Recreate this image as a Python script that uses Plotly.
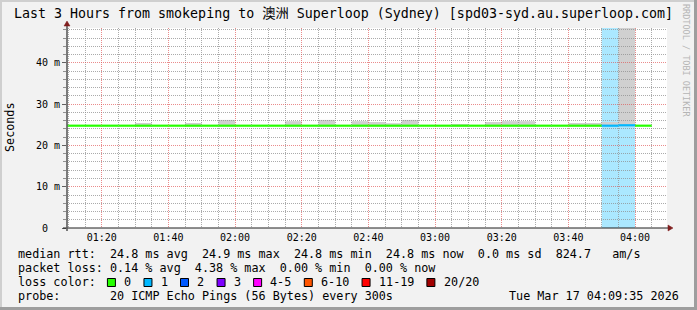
import plotly.graph_objects as go
import pandas as pd

# ---------------- data ----------------
DAY = "2026-03-17"
step_start = ["01:05", "01:10", "01:15", "01:20", "01:25", "01:30", "01:35", "01:40", "01:45",
              "01:50", "01:55", "02:00", "02:05", "02:10", "02:15", "02:20", "02:25", "02:30",
              "02:35", "02:40", "02:45", "02:50", "02:55", "03:00", "03:05", "03:10", "03:15",
              "03:20", "03:25", "03:30", "03:35", "03:40", "03:45", "03:50", "03:55", "04:00"]
median_ms = [24.8, 24.8, 24.8, 24.8, 24.8, 24.8, 24.8, 24.8, 24.8,
             24.8, 24.8, 24.8, 24.8, 24.8, 24.8, 24.8, 24.8, 24.8,
             24.8, 24.8, 24.8, 24.8, 24.8, 24.8, 24.8, 24.8, 24.8,
             24.8, 24.8, 24.8, 24.8, 24.8, 24.8, 24.8, 24.9, 24.8]
smoke_min_ms = [24.6, 24.6, 24.6, 24.6, 24.6, 24.6, 24.6, 24.6, 24.6,
                24.6, 24.6, 24.6, 24.6, 24.6, 24.6, 24.6, 24.6, 24.6,
                24.6, 24.6, 24.6, 24.6, 24.6, 24.6, 24.6, 24.6, 24.6,
                24.6, 24.6, 24.6, 24.6, 24.6, 24.6, 24.6, 24.6, 24.6]
smoke_max_ms = [None, None, None, None, None, 25.45, None, None, 25.45,
                None, 26.2, None, None, None, 25.9, None, 26.2, None,
                25.9, 25.7, 25.4, 26.2, None, None, 25.2, None, 25.7,
                25.9, 25.9, None, None, 25.45, 25.45, 25.7, 60.0, None]
loss_pings = [0, 0, 0, 0, 0, 0, 0, 0, 0,
              0, 0, 0, 0, 0, 0, 0, 0, 0,
              0, 0, 0, 0, 0, 0, 0, 0, 0,
              0, 0, 0, 0, 0, 0, 1, 1, 0]
STEP_MINUTES = 5

loss_labels = ["0", "1", "2", "3", "4-5", "6-10", "11-19", "20/20"]
loss_upper = [0, 1, 2, 3, 5, 10, 19, 20]
loss_colors = ["#26ff00", "#00b8ff", "#0059ff", "#7e00ff", "#ff00ff", "#ff5500", "#ff0000", "#a10000"]

y_tick_vals = [0, 0.01, 0.02, 0.03, 0.04]
y_tick_text = ["0\u00a0\u00a0", "10\u00a0m", "20\u00a0m", "30\u00a0m", "40\u00a0m"]
x_range = [f"{DAY} 01:09:35", f"{DAY} 04:09:35"]
y_top = 0.04848
X_MAJOR_MIN, X_MINOR_MIN = 20, 5     # grid spacing, minutes
Y_MAJOR, Y_MINOR = 0.01, 0.002       # grid spacing, seconds

title_text = "Last 3 Hours from smokeping to 澳洲 Superloop (Sydney) [spd03-syd.au.superloop.com]"
row_median = "median rtt:  24.8 ms avg  24.9 ms max  24.8 ms min  24.8 ms now  0.0 ms sd  824.7   am/s"
row_loss = "packet loss: 0.14 % avg  4.38 % max  0.00 % min  0.00 % now"
row_color = "loss color:"
row_probe = "probe:       20 ICMP Echo Pings (56 Bytes) every 300s"
stamp = "Tue Mar 17 04:09:35 2026"
watermark = "RRDTOOL / TOBI OETIKER"

# ---------------- style ----------------
W, H = 697, 310
ML, MR, MT, MB = 67, 30, 28, 82
PW, PH = W - ML - MR, H - MT - MB
MONO = "DejaVu Sans Mono, Noto Sans CJK SC, monospace"
BACK = "#f2f2f2"
GRID = "rgba(143,143,143,0.75)"
MGRID = "rgba(222,79,79,0.65)"
ARROW = "#801f1f"
AXIS = "#1f1f1f"
SMOKE = "#d0d0d0"
CHAR = 7.07
LEG_FS = 11.75


def fx(px):
    return (px - ML) / PW


def fy(py):
    return (H - MB - py) / PH


def nb(s):
    return s.replace(" ", "\u00a0")


def loss_idx(n):
    for i, u in enumerate(loss_upper):
        if n <= u:
            return i
    return len(loss_upper) - 1


def hex_rgba(h, a):
    h = h.lstrip("#")
    return f"rgba({int(h[0:2],16)},{int(h[2:4],16)},{int(h[4:6],16)},{a})"


t0 = pd.to_datetime([f"{DAY} {s}" for s in step_start])
t1 = t0 + pd.Timedelta(minutes=STEP_MINUTES)

# minor grid positions (excluding the major ones)
xr0, xr1 = pd.Timestamp(x_range[0]), pd.Timestamp(x_range[1])
x_minor = [t for t in pd.date_range(xr0.floor("5min"), xr1, freq=f"{X_MINOR_MIN}min")
           if t >= xr0 and t.minute % X_MAJOR_MIN != 0]
y_minor = []
k = 1
while k * Y_MINOR < y_top:
    if k % round(Y_MAJOR / Y_MINOR) != 0:
        y_minor.append(round(k * Y_MINOR, 6))
    k += 1

fig = go.Figure()

shapes = []
# loss background
for a, b, l in zip(t0, t1, loss_pings):
    if l > 0:
        shapes.append(dict(type="rect", xref="x", yref="y", x0=a, x1=b, y0=0, y1=y_top,
                           fillcolor=hex_rgba(loss_colors[loss_idx(l)], 0.33),
                           line=dict(width=0), layer="below"))
# smoke
for a, b, lo, hi in zip(t0, t1, smoke_min_ms, smoke_max_ms):
    if hi is None:
        continue
    shapes.append(dict(type="rect", xref="x", yref="y", x0=a, x1=b, y0=lo / 1000,
                       y1=min(hi / 1000, y_top), fillcolor=SMOKE, line=dict(width=0), layer="below"))

# median line, coloured by loss
segs = {}
for a, b, m, l in zip(t0, t1, median_ms, loss_pings):
    if m is None:
        continue
    ci = loss_idx(l)
    xs, ys = segs.setdefault(ci, ([], []))
    xs += [a, b, None]
    ys += [m / 1000, m / 1000, None]
for ci, (xs, ys) in segs.items():
    fig.add_trace(go.Scatter(x=xs, y=ys, mode="lines", line=dict(color=loss_colors[ci], width=2.2),
                             hoverinfo="skip", showlegend=False))

# frame
shapes += [
    dict(type="rect", xref="paper", yref="paper", x0=fx(0), x1=fx(W), y0=fy(0), y1=fy(2),
         fillcolor="#cfcfcf", line=dict(width=0), layer="below"),
    dict(type="rect", xref="paper", yref="paper", x0=fx(0), x1=fx(2), y0=fy(0), y1=fy(H),
         fillcolor="#cfcfcf", line=dict(width=0), layer="below"),
    dict(type="rect", xref="paper", yref="paper", x0=fx(W - 3), x1=fx(W), y0=fy(0), y1=fy(H),
         fillcolor="#9e9e9e", line=dict(width=0), layer="below"),
    dict(type="rect", xref="paper", yref="paper", x0=fx(0), x1=fx(W), y0=fy(H - 3), y1=fy(H),
         fillcolor="#9e9e9e", line=dict(width=0), layer="below"),
]
# axes lines + arrows
shapes += [
    dict(type="line", xref="paper", yref="paper", x0=fx(63), x1=fx(668), y0=fy(228), y1=fy(228),
         line=dict(color=AXIS, width=1), layer="above"),
    dict(type="line", xref="paper", yref="paper", x0=fx(67), x1=fx(67), y0=fy(231), y1=fy(25),
         line=dict(color="#5a5a5a", width=1.6), layer="above"),
    dict(type="path", xref="paper", yref="paper",
         path=f"M {fx(668)},{fy(225)} L {fx(673)},{fy(228)} L {fx(668)},{fy(231)} Z",
         fillcolor=ARROW, line=dict(color=ARROW, width=0.5), layer="above"),
    dict(type="path", xref="paper", yref="paper",
         path=f"M {fx(64)},{fy(26)} L {fx(67)},{fy(21)} L {fx(70)},{fy(26)} Z",
         fillcolor=ARROW, line=dict(color=ARROW, width=0.5), layer="above"),
]

ann = []
ann.append(dict(text=nb(title_text), x=fx(12), y=fy(14), xref="paper", yref="paper",
                xanchor="left", yanchor="middle", showarrow=False,
                font=dict(family=MONO, size=13.3, color="#000")))
ann.append(dict(text="Seconds", x=fx(10), y=fy(127), xref="paper", yref="paper", textangle=-90,
                xanchor="center", yanchor="middle", showarrow=False,
                font=dict(family=MONO, size=LEG_FS, color="#000")))
ann.append(dict(text=nb(watermark), x=fx(686), y=fy(60), xref="paper", yref="paper", textangle=90,
                xanchor="center", yanchor="middle", showarrow=False,
                font=dict(family=MONO, size=8.5, color="#b5b5b5")))
for txt, py in [(row_median, 254), (row_loss, 268), (row_color, 282), (row_probe, 296)]:
    ann.append(dict(text=nb(txt), x=fx(16), y=fy(py), xref="paper", yref="paper",
                    xanchor="left", yanchor="middle", showarrow=False,
                    font=dict(family=MONO, size=LEG_FS, color="#000")))
ann.append(dict(text=nb(stamp), x=fx(681), y=fy(296), xref="paper", yref="paper",
                xanchor="right", yanchor="middle", showarrow=False,
                font=dict(family=MONO, size=LEG_FS, color="#000")))

# loss colour legend boxes
bx = 16 + 13 * CHAR - 0.5
for lab, col in zip(loss_labels, loss_colors):
    shapes.append(dict(type="rect", xref="paper", yref="paper", x0=fx(bx), x1=fx(bx + 8),
                       y0=fy(286.5), y1=fy(278.5), fillcolor=col, line=dict(color="#000", width=1),
                       layer="above"))
    ann.append(dict(text=nb(lab), x=fx(bx + 2 * CHAR + 0.5), y=fy(282), xref="paper", yref="paper",
                    xanchor="left", yanchor="middle", showarrow=False,
                    font=dict(family=MONO, size=LEG_FS, color="#000")))
    bx += (len(lab) + 4) * CHAR + 1.2

fig.update_layout(
    width=W, height=H, autosize=False,
    margin=dict(l=ML, r=MR, t=MT, b=MB, pad=0),
    paper_bgcolor=BACK, plot_bgcolor="#ffffff",
    showlegend=False,
    shapes=shapes, annotations=ann,
    xaxis=dict(type="date", range=x_range, showgrid=True, gridcolor=MGRID, griddash="1px,1px",
               gridwidth=1, tickmode="linear", tick0=f"{DAY} 00:00", dtick=X_MAJOR_MIN * 60 * 1000,
               tickformat="%H:%M", ticks="", showline=False, zeroline=False,
               ticklabelstandoff=2,
               tickfont=dict(family=MONO, size=10, color="#000"),
               minor=dict(tickmode="array", tickvals=x_minor, showgrid=True,
                          gridcolor=GRID, griddash="1px,1px", gridwidth=1)),
    yaxis=dict(range=[0, y_top], tickmode="array", tickvals=y_tick_vals, ticktext=y_tick_text,
               showgrid=True, gridcolor=MGRID, griddash="1px,1px", gridwidth=1,
               ticks="outside", ticklen=4, tickcolor="#606060", showline=False, zeroline=False,
               tickfont=dict(family=MONO, size=10, color="#000"),
               minor=dict(tickmode="array", tickvals=y_minor, showgrid=True, gridcolor=GRID,
                          griddash="1px,1px", gridwidth=1, ticks="outside", ticklen=3,
                          tickcolor="#909090")),
)

fig.write_html("out.html")
